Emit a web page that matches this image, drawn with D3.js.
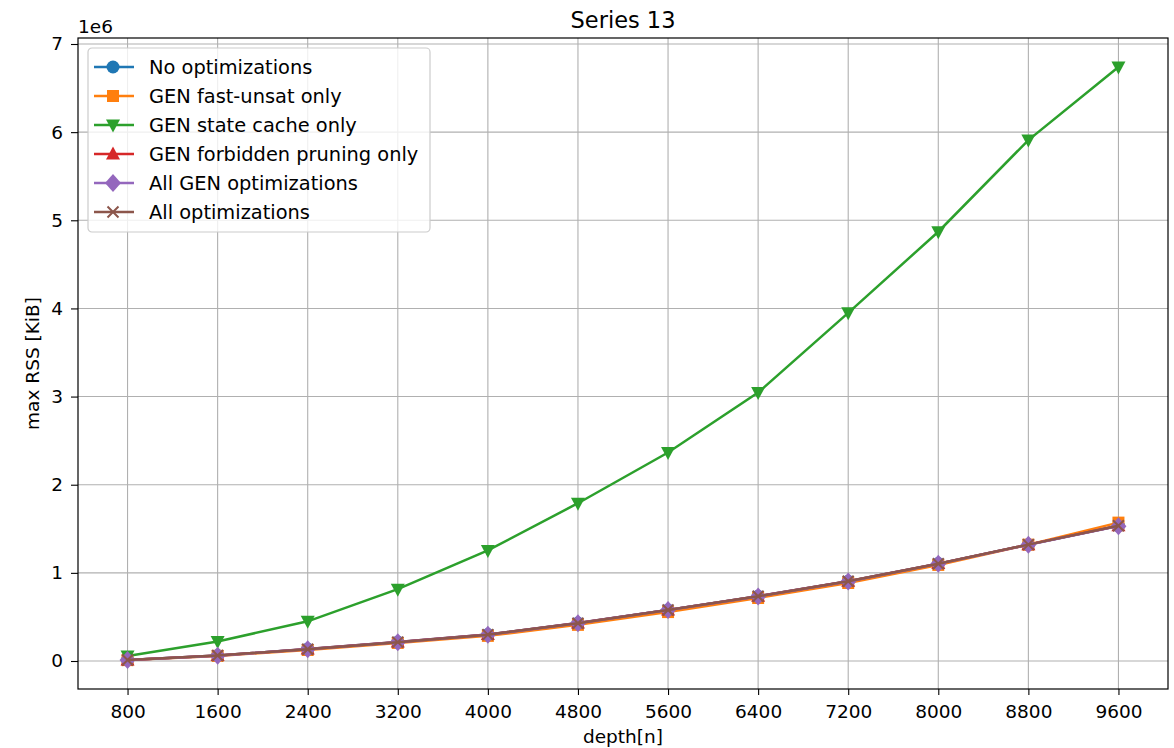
<!DOCTYPE html>
<html><head><meta charset="utf-8">
<script src="https://cdn.jsdelivr.net/npm/d3@7"></script>
<style>body{margin:0;background:#fff}svg{display:block}text{font-family:"DejaVu Sans",sans-serif;fill:#000}</style>
</head><body><svg id="c" width="1174" height="748"></svg>
<script>
const depths = [800,1600,2400,3200,4000,4800,5600,6400,7200,8000,8800,9600];
const noOpt      = [12000,62000,135000,215000,300000,430000,580000,735000,905000,1105000,1320000,1535000];
const fastUnsat  = [10000,58000,125000,205000,285000,410000,555000,715000,885000,1090000,1320000,1570000];
const stateCache = [57000,222000,450000,815000,1255000,1790000,2365000,3045000,3950000,4870000,5910000,6740000];
const forbidden  = [12000,62000,135000,215000,300000,430000,580000,735000,905000,1105000,1320000,1535000];
const allGen     = [11000,60000,133000,213000,298000,428000,578000,733000,903000,1102000,1318000,1530000];
const allOpt     = [12000,62000,134000,214000,299000,429000,579000,734000,904000,1104000,1320000,1534000];
const seriesNames = ["No optimizations","GEN fast-unsat only","GEN state cache only","GEN forbidden pruning only","All GEN optimizations","All optimizations"];
const seriesColors = ["#1f77b4","#ff7f0e","#2ca02c","#d62728","#9467bd","#8c564b"];
const seriesMarkers = ["circle","square","triangleDown","triangleUp","diamond","x"];
const yTicks = [0,1,2,3,4,5,6,7];
const title = "Series 13", xLabel = "depth[n]", yLabel = "max RSS [KiB]";

const values = [noOpt,fastUnsat,stateCache,forbidden,allGen,allOpt];
const svg = d3.select("#c");
const L=78,R=1168,T=38,B=689;
const x = d3.scaleLinear().domain([360,10040]).range([L,R]);
const y0=661,y7=44;
const y = d3.scaleLinear().domain([ (B-y0)/(y0-y7)*-7e6, 7e6 + (y7-T)/(y0-y7)*7e6 ]).range([B,T]);
const FS = 18.5;

const g = svg.append("g");
g.selectAll(".gx").data(depths).join("line").attr("x1",d=>x(d)).attr("x2",d=>x(d)).attr("y1",T).attr("y2",B).attr("stroke","#b0b0b0").attr("stroke-width",1.1);
g.selectAll(".gy").data(yTicks).join("line").attr("y1",d=>y(d*1e6)).attr("y2",d=>y(d*1e6)).attr("x1",L).attr("x2",R).attr("stroke","#b0b0b0").attr("stroke-width",1.1);

const xa = svg.append("g").attr("transform",`translate(0,${B})`).call(d3.axisBottom(x).tickValues(depths).tickFormat(d3.format("d")).tickSize(6).tickPadding(10));
const ya = svg.append("g").attr("transform",`translate(${L},0)`).call(d3.axisLeft(y).tickValues(yTicks.map(d=>d*1e6)).tickFormat(d=>d/1e6).tickSize(7).tickPadding(8));
[xa,ya].forEach(a=>{a.select(".domain").remove();a.selectAll("text").attr("font-size",FS).attr("font-family","DejaVu Sans").attr("fill","#222");a.selectAll("line").attr("stroke","#000").attr("stroke-width",1.1);});
svg.append("rect").attr("x",L).attr("y",T).attr("width",R-L).attr("height",B-T).attr("fill","none").attr("stroke","#000").attr("stroke-width",1.2);

function marker(sel,type,color){
  if(type==="circle") sel.append("circle").attr("r",6.5).attr("fill",color);
  else if(type==="square") sel.append("rect").attr("x",-6).attr("y",-6).attr("width",12).attr("height",12).attr("fill",color);
  else if(type==="triangleDown") sel.append("path").attr("d",`M-7,-5.5L7,-5.5L0,7.5Z`).attr("fill",color);
  else if(type==="triangleUp") sel.append("path").attr("d",`M-7,5.5L7,5.5L0,-7.5Z`).attr("fill",color);
  else if(type==="diamond") sel.append("path").attr("d",`M0,-9L8,0L0,9L-8,0Z`).attr("fill",color);
  else if(type==="x") sel.append("path").attr("d",`M-5.5,-5.5L5.5,5.5M-5.5,5.5L5.5,-5.5`).attr("stroke",color).attr("stroke-width",2).attr("fill","none");
}

const line = d3.line().x((d,i)=>x(depths[i])).y(d=>y(d));
const plot = svg.append("g");
values.forEach((vals,k)=>{
  const sg = plot.append("g");
  sg.append("path").attr("d",line(vals)).attr("fill","none").attr("stroke",seriesColors[k]).attr("stroke-width",2.5);
  sg.selectAll("g.m").data(vals).join("g").attr("class","m").attr("transform",(d,i)=>`translate(${x(depths[i])},${y(d)})`).each(function(){marker(d3.select(this),seriesMarkers[k],seriesColors[k]);});
});

const lg = svg.append("g").attr("transform","translate(88,48)");
lg.append("rect").attr("width",342).attr("height",184).attr("rx",4).attr("fill","#fff").attr("fill-opacity",0.8).attr("stroke","#cccccc").attr("stroke-width",1.2);
seriesNames.forEach((n,k)=>{
  const yy = 19 + k*29;
  const e = lg.append("g").attr("transform",`translate(0,${yy})`);
  e.append("line").attr("x1",6).attr("x2",46).attr("y1",0).attr("y2",0).attr("stroke",seriesColors[k]).attr("stroke-width",2.5);
  marker(e.append("g").attr("transform","translate(25,0)"),seriesMarkers[k],seriesColors[k]);
  e.append("text").attr("x",61).attr("y",7).attr("font-size",19.4).text(n).attr("fill","#222");
});

svg.append("text").attr("x",(L+R)/2).attr("y",28).attr("text-anchor","middle").attr("font-size",22.5).attr("fill","#222").text(title);
svg.append("text").attr("x",(L+R)/2).attr("y",743).attr("text-anchor","middle").attr("font-size",FS).attr("fill","#222").text(xLabel);
svg.append("text").attr("transform",`translate(39,${(T+B)/2}) rotate(-90)`).attr("text-anchor","middle").attr("font-size",FS).attr("fill","#222").text(yLabel);
svg.append("text").attr("x",L).attr("y",33).attr("font-size",FS).attr("fill","#222").text("1e6");
</script></body></html>
